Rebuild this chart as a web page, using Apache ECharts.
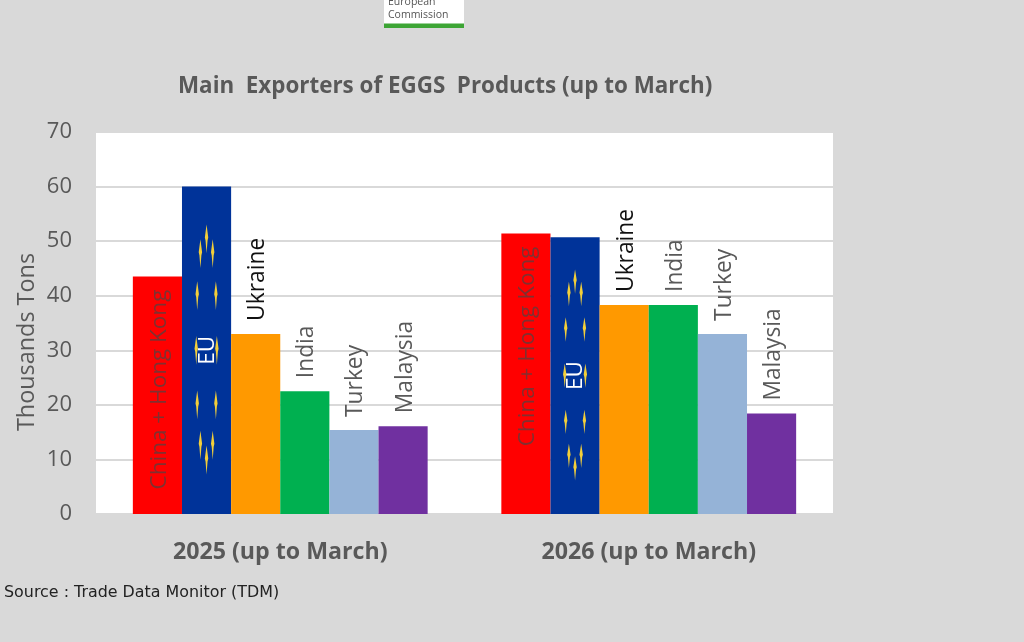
<!DOCTYPE html>
<html><head><meta charset="utf-8">
<style>html,body{margin:0;padding:0;background:#d9d9d9}#c{width:1024px;height:642px}</style>
<script src="https://cdn.jsdelivr.net/npm/echarts@6/dist/echarts.min.js"></script>
</head><body><div id="c"></div>
<script>
const categories = ['2025 (up to March)', '2026 (up to March)'];
const china = [43.5, 51.4];
const eu = [60, 50.7];
const ukraine = [33, 38.3];
const india = [22.5, 38.3];
const turkey = [15.4, 33];
const malaysia = [16.1, 18.4];
const seriesNames = ['China + Hong Kong', 'EU', 'Ukraine', 'India', 'Turkey', 'Malaysia'];
const yTicks = [0, 10, 20, 30, 40, 50, 60, 70];

const FONT = '"Open Sans", sans-serif';
const GREY = '#595959';
// EU flag stars: [horizontal offset in bar widths, vertical offset in bar heights]
const starRing = [[0,-.34],[-.125,-.295],[.125,-.295],[-.19,-.167],[.19,-.167],[-.21,0],[.21,0],
                  [-.19,.167],[.19,.167],[-.125,.29],[.125,.29],[0,.335]];

function above(name, color, values) {
  return { name, type:'bar', data:values, itemStyle:{color:color[0]},
    label:{show:true, formatter:'{a}', position:'top', distance:13, rotate:90, align:'left',
      verticalAlign:'middle', offset:[0,2], color:color[1], fontFamily:FONT, fontSize:22.8} };
}
const chart = echarts.init(document.getElementById('c'), null, {renderer:'canvas'});
chart.setOption({
  animation:false,
  backgroundColor:'#d9d9d9',
  title:{text:'Main  Exporters of EGGS  Products (up to March)', left:173, top:71,
    textStyle:{fontFamily:FONT, fontSize:22.4, fontWeight:700, color:GREY}},
  grid:{left:96, right:191, top:132, bottom:128, show:true, backgroundColor:'#fff', borderWidth:0},
  xAxis:{type:'category', data:categories, axisTick:{show:false},
    axisLine:{lineStyle:{color:'#d9d9d9', width:2}},
    axisLabel:{fontFamily:FONT, fontSize:23.2, fontWeight:700, color:GREY, margin:26.5}},
  yAxis:{type:'value', min:yTicks[0], max:yTicks[yTicks.length-1], interval:10,
    axisLine:{show:false}, axisTick:{show:false},
    axisLabel:{fontFamily:FONT, fontSize:22, color:GREY, margin:24},
    splitLine:{lineStyle:{color:'#d9d9d9', width:2}}},
  series:[
    { name:seriesNames[0], type:'bar', barGap:'0%', barCategoryGap:'20%', data:china,
      itemStyle:{color:'#ff0000'},
      label:{show:true, formatter:'{a}', position:'insideTop', distance:13, rotate:90, align:'right',
        verticalAlign:'middle', offset:[0,2], color:'#803030', fontFamily:FONT, fontSize:22.5} },
    { name:seriesNames[1], type:'bar', data:eu, itemStyle:{color:'#003399'},
      label:{show:true, formatter:'{a}', position:'inside', rotate:90, offset:[0,1], color:'#fff',
        fontFamily:FONT, fontSize:22.5} },
    above(seriesNames[2], ['#ff9900', '#111111'], ukraine),
    above(seriesNames[3], ['#00b050', GREY], india),
    above(seriesNames[4], ['#95b3d7', GREY], turkey),
    above(seriesNames[5], ['#7030a0', GREY], malaysia),
    { type:'custom', name:'EU stars', silent:true, z:3,
      data:eu.map((v,i)=>[i,v]),
      encode:{x:0,y:1},
      renderItem(params, api){
        const top = api.coord([api.value(0), api.value(1)]);
        const base = api.coord([api.value(0), 0]);
        const bw = api.size([1,0])[0]*0.8/6;
        const cx = top[0]-1.5*bw, h = base[1]-top[1], cy = top[1]+h/2;
        const sh = h*0.044;
        return {type:'group', children:starRing.map(([dx,dy])=>{
          const x = cx+dx*bw, y = cy+dy*h;
          return {type:'polygon', shape:{points:[[x,y-sh],[x+1.7,y-sh*0.1],[x+1,y+sh*0.1],[x,y+sh],[x-1,y+sh*0.1],[x-1.7,y-sh*0.1]]},
            style:{fill:'#f2cf3a'}};
        })};
      }
    }
  ],
  graphic:[
    {type:'rect', shape:{x:384,y:0,width:80,height:28}, style:{fill:'#fff'}, z:10},
    {type:'rect', shape:{x:384,y:23.5,width:80,height:4.5}, style:{fill:'#3da535'}, z:11},
    {type:'text', x:388, y:-3, style:{text:'European', font:'10.5px "Open Sans"', fill:'#555'}, z:11},
    {type:'text', x:388, y:9.5, style:{text:'Commission', font:'10.5px "Open Sans"', fill:'#555'}, z:11},
    {type:'text', x:27, y:342, rotation:Math.PI/2, style:{text:'Thousands Tons', font:'23.4px "Open Sans"', fill:GREY, align:'center', verticalAlign:'middle'}, z:11},
    {type:'text', x:4, y:585, style:{text:'Source : Trade Data Monitor (TDM)', font:'15.9px "DejaVu Sans"', fill:'#222'}, z:11}
  ]
});
</script></body></html>
